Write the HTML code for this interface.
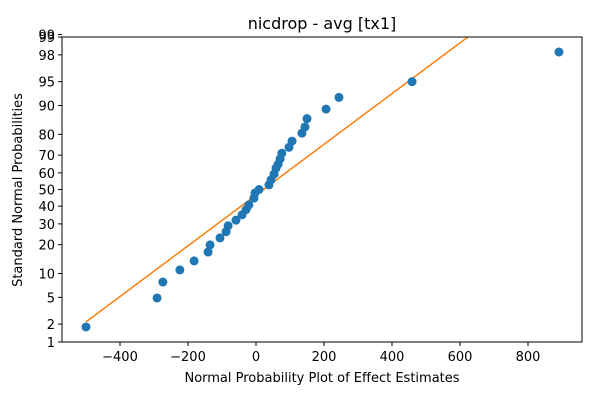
<!DOCTYPE html>
<html><head><meta charset="utf-8"><style>
body{margin:0;background:#fff;font-family:"Liberation Sans","DejaVu Sans",sans-serif;}
svg text{font-family:"DejaVu Sans","Liberation Sans",sans-serif;}
</style></head><body>
<svg id="chart" width="600" height="400" xmlns="http://www.w3.org/2000/svg">
<rect width="600" height="400" fill="#fff"/>
<text x="322" y="29" text-anchor="middle" font-size="16">nicdrop - avg [tx1]</text>
<g id="plot"></g>
<text x="322" y="382" text-anchor="middle" font-size="13">Normal Probability Plot of Effect Estimates</text>
<text transform="translate(22,190) rotate(-90)" text-anchor="middle" font-size="13">Standard Normal Probabilities</text>
</svg>
<script>
const effects=[-500,-291,-274,-224,-182,-141,-135,-106,-88,-82,-59,-41,-29,-21,-6,-3,9,38,44,53,59,65,71,76,97,106,135,144,150,206,244,459,891];
const probs=[1.8,4.9,7.9,11,13.8,17,19.9,23,26,29,32,35,38,40.7,44.8,47.9,50,52.8,55.8,59.3,62.8,65,68,71,74,77,80.5,83,86,89,92,95,98.2];
const xTicks=[-400,-200,0,200,400,600,800];
const yTicks=[1,2,5,10,20,30,40,50,60,70,80,90,95,98,99,99.1];
const fitX=[-500,623];
const fitP=[2.17,99];

const L=62,R=582,T=37,B=342,xmin=-570.6,xmax=958.8,zmax=2.3263;
function sx(v){return L+(v-xmin)/(xmax-xmin)*(R-L);}
function ppf(p){p=p/100;
 const a=[-39.6968302866538,220.946098424521,-275.928510446969,138.357751867269,-30.6647980661472,2.50662827745924],
 b=[-54.4760987982241,161.585836858041,-155.698979859887,66.8013118877197,-13.2806815528857],
 c=[-0.00778489400243029,-0.322396458041136,-2.40075827716184,-2.54973253934373,4.37466414146497,2.93816398269878],
 d=[0.00778469570904146,0.32246712907004,2.445134137143,3.75440866190742];
 let q,r;
 if(p<0.02425){q=Math.sqrt(-2*Math.log(p));return (((((c[0]*q+c[1])*q+c[2])*q+c[3])*q+c[4])*q+c[5])/((((d[0]*q+d[1])*q+d[2])*q+d[3])*q+1);}
 if(p>1-0.02425){q=Math.sqrt(-2*Math.log(1-p));return -(((((c[0]*q+c[1])*q+c[2])*q+c[3])*q+c[4])*q+c[5])/((((d[0]*q+d[1])*q+d[2])*q+d[3])*q+1);}
 q=p-0.5;r=q*q;return (((((a[0]*r+a[1])*r+a[2])*r+a[3])*r+a[4])*r+a[5])*q/(((((b[0]*r+b[1])*r+b[2])*r+b[3])*r+b[4])*r+1);}
function sy(p){return (T+B)/2-ppf(p)/zmax*(B-T)/2;}
const NS="http://www.w3.org/2000/svg",g=document.getElementById('plot');
function mk(t,a,parent){const e=document.createElementNS(NS,t);for(const k in a)e.setAttribute(k,a[k]);(parent||g).appendChild(e);return e;}
const clip=mk('clipPath',{id:'c'});mk('rect',{x:L,y:T,width:R-L,height:B-T},clip);
xTicks.forEach(v=>{const x=sx(v);
 const t=mk('line',{x1:x,x2:x,y1:B,y2:B+4,stroke:'#000'});
 
 
 const s=mk('text',{x:x,y:B+19,'text-anchor':'middle','font-size':13});s.textContent=v<0?'\u2212'+(-v):v;
 
 });
yTicks.forEach(v=>{const y=sy(v);
 const t=mk('line',{x1:L-4,x2:L,y1:y,y2:y,stroke:'#000'});
 
 
 const s=mk('text',{x:L-7,y:y+5,'text-anchor':'end','font-size':13});s.textContent=Math.floor(v);
 
 });
const fl=mk('line',{x1:sx(fitX[0]),y1:sy(fitP[0]),x2:sx(fitX[1]),y2:sy(fitP[1]),stroke:'#ff7f0e','stroke-width':1.5,'clip-path':'url(#c)'});


effects.forEach((v,i)=>{const c=mk('circle',{cx:sx(v),cy:sy(probs[i]),r:4.5,fill:'#1f77b4'});
 
 });
const fr=mk('rect',{x:L,y:T,width:R-L,height:B-T,fill:'none',stroke:'#000','stroke-width':1});


</script>
</body></html>
